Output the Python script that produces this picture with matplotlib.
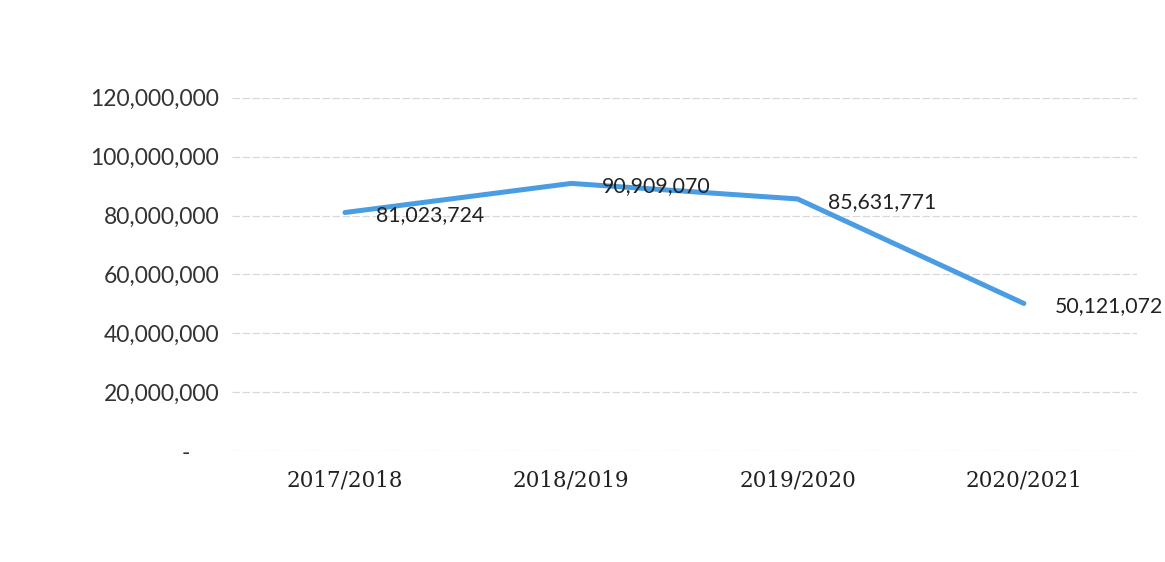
import matplotlib
matplotlib.use("Agg")
import matplotlib.pyplot as plt
from matplotlib.ticker import FixedLocator

# Annual totals per academic year
years = ["2017/2018", "2018/2019", "2019/2020", "2020/2021"]
totals = [81023724, 90909070, 85631771, 50121072]
y_ticks = [0, 20000000, 40000000, 60000000, 80000000, 100000000, 120000000]
y_labels = ["-     ", "20,000,000", "40,000,000", "60,000,000",
            "80,000,000", "100,000,000", "120,000,000"]

fig = plt.figure(figsize=(11.65, 5.62), dpi=100)
ax = fig.add_axes([0.199, 0.1975, 0.777, 0.6285])

x = list(range(len(years)))
ax.plot(x, totals, color="#4a9de2", lw=3.6, solid_capstyle="round", zorder=3)

for xi, v in zip(x, totals):
    ax.annotate(f"{v:,}", (xi, v), xytext=(22, -2), textcoords="offset points",
                ha="left", va="center", fontsize=15.3, color="#222222",
                family="Lato", zorder=4)

ax.set_xlim(-0.5, 3.5)
ax.set_ylim(0, 120000000)
ax.yaxis.set_major_locator(FixedLocator(y_ticks))
ax.set_yticklabels(y_labels, fontsize=16.5, color="#333333", family="Lato")
ax.set_xticks(x)
ax.set_xticklabels(years, fontsize=15.5, color="#222222", family="DejaVu Serif")

ax.grid(axis="y", color="#d8d8d8", lw=0.9, ls=(0, (6, 2)))
ax.grid(axis="x", visible=False)
for s in ax.spines.values():
    s.set_visible(False)
ax.tick_params(axis="both", length=0)
ax.tick_params(axis="y", pad=9)
ax.tick_params(axis="x", pad=13)

fig.savefig("out.png", dpi=100, facecolor="white")
